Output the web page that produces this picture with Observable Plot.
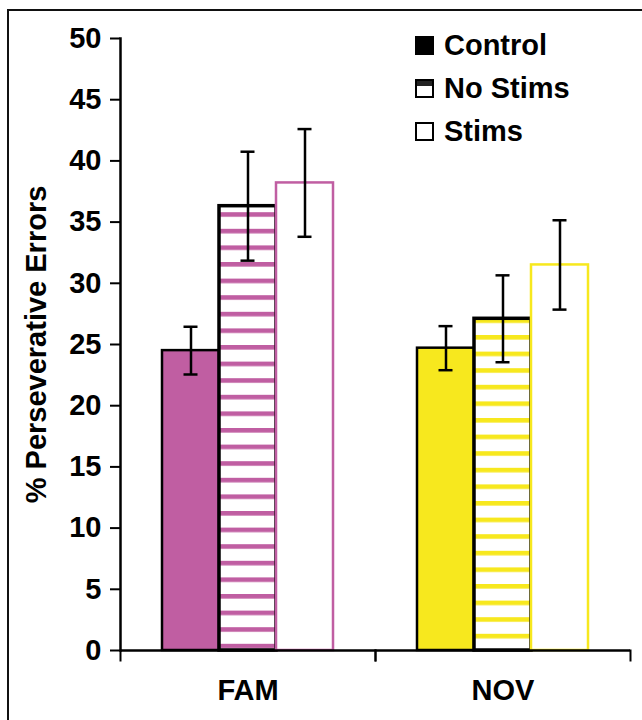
<!DOCTYPE html>
<html><head><meta charset="utf-8">
<script src="https://cdn.jsdelivr.net/npm/d3@7"></script>
<script src="https://cdn.jsdelivr.net/npm/@observablehq/plot@0.6"></script>
<style>
body{margin:0;background:#fff;}
#wrap{position:relative;width:642px;height:720px;overflow:hidden;font-family:"Liberation Sans",Arial,sans-serif;font-weight:bold;color:#000;}
#border{position:absolute;left:7px;top:9px;width:700px;height:800px;border-top:2.5px solid #111;border-left:2.5px solid #111;z-index:2;pointer-events:none;}
#chart{position:absolute;left:0;top:0;}
#legend{position:absolute;left:415px;top:26px;z-index:3;}
.row{position:absolute;left:0;height:38px;display:flex;align-items:center;white-space:nowrap;font-size:29px;line-height:1;}
.sw{width:19px;height:19px;box-sizing:border-box;border:2px solid #000;margin-right:10px;flex:none;}
</style></head>
<body>
<div id="wrap"><div id="chart"></div><div id="border"></div><div id="legend"></div></div>
<script>
// ---- data ----
const categories = ["FAM", "NOV"];
const series = ["Control", "No Stims", "Stims"];
const famMeans = [24.5, 36.3, 38.2];
const novMeans = [24.7, 27.1, 31.5];
const famErrors = [1.95, 4.45, 4.4];
const novErrors = [1.8, 3.55, 3.65];
const yTicks = [0, 5, 10, 15, 20, 25, 30, 35, 40, 45, 50];
const yLabel = "% Perseverative Errors";

// ---- styles ----
const categoryColors = {FAM: "#c05ea2", NOV: "#f7e81e"};
const stripePhase = {FAM: 13, NOV: 3};

const meansBy = {FAM: famMeans, NOV: novMeans};
const errorsBy = {FAM: famErrors, NOV: novErrors};
const rows = categories.flatMap(c => series.map((s, i) => ({category: c, series: s, mean: meansBy[c][i], err: errorsBy[c][i]})));
const bySeries = s => rows.filter(d => d.series === s);

const W = 642, H = 720, mt = 38, mb = 70, ml = 120, mr = 12;
const plotH = H - mt - mb;
const FS = 29;

const chart = Plot.plot({
  width: W, height: H,
  marginTop: mt, marginBottom: mb, marginLeft: ml, marginRight: mr,
  style: {fontFamily: "'Liberation Sans', Arial, sans-serif", fontSize: FS + "px", fontWeight: "bold", color: "#000", background: "transparent", overflow: "visible"},
  fx: {domain: categories, padding: 0, label: null},
  x: {domain: series, paddingInner: 0, paddingOuter: 0.73, axis: null},
  y: {domain: [0, 50], label: null},
  color: {type: "identity"},
  marks: [
    Plot.barY(bySeries("Control"), {fx: "category", x: "series", y: "mean", fill: d => categoryColors[d.category], stroke: "#000", strokeWidth: 2.5}),
    Plot.barY(bySeries("No Stims"), {fx: "category", x: "series", y: "mean", fill: d => `url(#stripes-${d.category})`, stroke: "#000", strokeWidth: 3.5}),
    Plot.barY(bySeries("Stims"), {fx: "category", x: "series", y: "mean", fill: "#fff", stroke: d => categoryColors[d.category], strokeWidth: 2.5}),
    Plot.ruleX(rows, {fx: "category", x: "series", y1: d => d.mean - d.err, y2: d => d.mean + d.err, stroke: "#000", strokeWidth: 2.5}),
    Plot.tickY(rows, {fx: "category", x: "series", y: d => d.mean + d.err, stroke: "#000", strokeWidth: 2.5, insetLeft: 21.5, insetRight: 21.5}),
    Plot.tickY(rows, {fx: "category", x: "series", y: d => d.mean - d.err, stroke: "#000", strokeWidth: 2.5, insetLeft: 21.5, insetRight: 21.5}),
    Plot.ruleY([0], {stroke: "#000", strokeWidth: 2.5}),
    Plot.frame({anchor: "left", insetTop: plotH, insetBottom: -10, stroke: "#000", strokeWidth: 2}),
    Plot.frame({anchor: "right", insetTop: plotH, insetBottom: -10, stroke: "#000", strokeWidth: 2}),
    Plot.frame({anchor: "left", facetAnchor: "left", stroke: "#000", strokeWidth: 2.5}),
    Plot.axisY({ticks: yTicks, tickSize: 10, tickPadding: 9, strokeWidth: 2, stroke: "#000", fill: "#000", fontSize: FS, label: yLabel, labelAnchor: "center", labelArrow: "none", labelOffset: 95}),
    Plot.axisFx({anchor: "bottom", tickSize: 0, tickPadding: 29, fontSize: FS, fill: "#000", label: null})
  ]
});

// stripe pattern definitions
const svg = d3.select(chart.tagName.toLowerCase() === "svg" ? chart : chart.querySelector("svg"));
const defs = svg.insert("defs", ":first-child");
for (const c of categories) {
  const p = defs.append("pattern").attr("id", `stripes-${c}`).attr("patternUnits", "userSpaceOnUse")
    .attr("width", 10).attr("height", 16.6).attr("y", stripePhase[c]);
  p.append("rect").attr("width", 10).attr("height", 16.6).attr("fill", "#fff");
  p.append("rect").attr("width", 10).attr("height", 4.6).attr("fill", categoryColors[c]);
}
document.getElementById("chart").appendChild(chart);

// legend
const legendItems = [
  {label: series[0], bg: "#000"},
  {label: series[1], bg: "linear-gradient(#222 0 35%, #fff 35%)"},
  {label: series[2], bg: "#fff"}
];
const legend = document.getElementById("legend");
legendItems.forEach((it, i) => {
  const r = document.createElement("div");
  r.className = "row";
  r.style.top = (i * 43) + "px";
  const sw = document.createElement("div");
  sw.className = "sw";
  sw.style.background = it.bg;
  const t = document.createElement("span");
  t.textContent = it.label;
  r.appendChild(sw); r.appendChild(t);
  legend.appendChild(r);
});
</script>
</body></html>
